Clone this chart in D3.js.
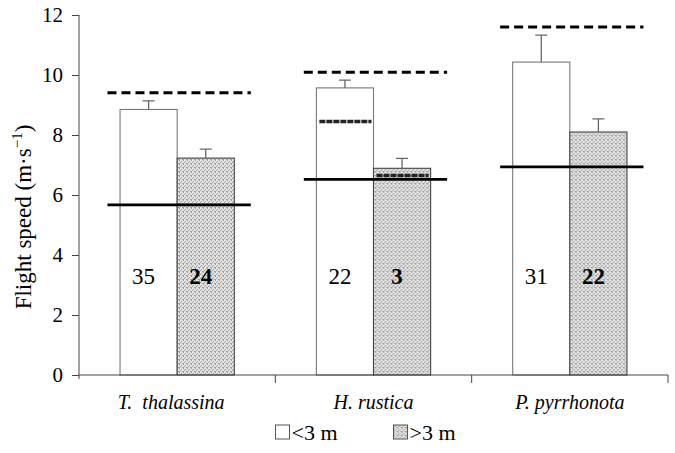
<!DOCTYPE html>
<html>
<head>
<meta charset="utf-8">
<script src="https://cdn.jsdelivr.net/npm/d3@7/dist/d3.min.js"></script>
<style>
  body { margin: 0; background: #fff; }
  svg, svg text { font-family: "Liberation Serif", "Times New Roman", "DejaVu Serif", serif; }
</style>
</head>
<body>
<script>
// species and the two height classes
const species = ["T.  thalassina", "H. rustica", "P. pyrrhonota"];
const groups = ["low", "high"];
const groupLabels = ["<3 m", ">3 m"];

// mean flight speed and SE, per height class
const lowMean = [8.85, 9.57, 10.43];
const lowSE = [0.29, 0.26, 0.90];
const highMean = [7.23, 6.89, 8.10];
const highSE = [0.30, 0.33, 0.44];

// sample sizes shown inside the bars
const lowN = [35, 22, 31];
const highN = [24, 3, 22];

// reference speeds (solid = Vmp, dashed = Vmr)
const vmp = [5.67, 6.52, 6.94];
const vmr = [9.41, 10.09, 11.60];

// extra marks drawn inside the H. rustica bars
const lowMark = [null, 8.45, null];
const highMark = [null, 6.65, null];

const yTicks = [0, 2, 4, 6, 8, 10, 12];

const width = 675, height = 453;
const margin = { left: 79, right: 7, top: 15, bottom: 78 };
const serif = "'Liberation Serif', 'Times New Roman', 'DejaVu Serif', serif";

const svg = d3.select("body").append("svg")
    .attr("width", width)
    .attr("height", height)
    .attr("font-family", serif);

const defs = svg.append("defs");
const pat = defs.append("pattern")
    .attr("id", "stipple")
    .attr("width", 4).attr("height", 4)
    .attr("patternUnits", "userSpaceOnUse");
pat.append("rect").attr("width", 4).attr("height", 4).attr("fill", "#e4e4e4");
[[0, 0], [2, 1], [1, 2], [3, 3], [0, 3]].forEach(p => {
    pat.append("rect").attr("x", p[0]).attr("y", p[1])
        .attr("width", 1).attr("height", 1).attr("fill", "#9a9a9a");
});

const x = d3.scaleBand()
    .domain(species)
    .range([margin.left, width - margin.right]);

const bw = x.bandwidth();
const xg = d3.scaleBand()
    .domain(groups)
    .range([bw * 0.209, bw * 0.791]);

const y = d3.scaleLinear()
    .domain([0, 12])
    .range([height - margin.bottom, margin.top]);

const rows = species.map((s, i) => ({
    name: s,
    bars: [
        { g: "low", mean: lowMean[i], se: lowSE[i], n: lowN[i], mark: lowMark[i] },
        { g: "high", mean: highMean[i], se: highSE[i], n: highN[i], mark: highMark[i] }
    ],
    vmp: vmp[i],
    vmr: vmr[i]
}));

// y axis
const yAxis = svg.append("g")
    .attr("transform", `translate(${margin.left},0)`)
    .call(d3.axisLeft(y).tickValues(yTicks).tickSize(7).tickPadding(9).tickSizeOuter(0));
yAxis.attr("font-family", serif).attr("font-size", 21);
yAxis.select(".domain").attr("stroke", "#444").attr("d", `M0,${y(12)}V${y(0) + 4}`);
yAxis.selectAll(".tick line").attr("stroke", "#444");
yAxis.selectAll(".tick text").attr("fill", "#000");

svg.append("text")
    .attr("transform", `translate(31,${(y(0) + y(12)) / 2 + 22}) rotate(-90)`)
    .attr("text-anchor", "middle")
    .attr("font-size", 23)
    .attr("fill", "#000")
    .html("Flight speed (m·s<tspan dy='-9' font-size='15'>−1</tspan><tspan dy='9'>)</tspan>");

const grp = svg.append("g")
    .selectAll("g")
    .data(rows)
    .join("g")
    .attr("transform", d => `translate(${x(d.name)},0)`);

// bars
grp.selectAll("rect.bar")
    .data(d => d.bars)
    .join("rect")
    .attr("class", "bar")
    .attr("x", d => xg(d.g))
    .attr("y", d => y(d.mean))
    .attr("width", xg.bandwidth())
    .attr("height", d => y(0) - y(d.mean))
    .attr("fill", d => d.g === "low" ? "#fff" : "url(#stipple)")
    .attr("stroke", d => d.g === "low" ? "#777" : "#444")
    .attr("stroke-width", 1.1);

// error bars
grp.selectAll("path.err")
    .data(d => d.bars)
    .join("path")
    .attr("class", "err")
    .attr("d", d => {
        const cx = xg(d.g) + xg.bandwidth() / 2;
        return `M${cx},${y(d.mean)}V${y(d.mean + d.se)}M${cx - 6},${y(d.mean + d.se)}H${cx + 6}`;
    })
    .attr("fill", "none")
    .attr("stroke", "#666")
    .attr("stroke-width", 1.3);

// dark marks inside H. rustica bars
grp.selectAll("line.mark")
    .data(d => d.bars.filter(b => b.mark !== null))
    .join("line")
    .attr("class", "mark")
    .attr("x1", d => xg(d.g) + 3)
    .attr("x2", d => xg(d.g) + xg.bandwidth() - 2)
    .attr("y1", d => y(d.mark))
    .attr("y2", d => y(d.mark))
    .attr("stroke", "#222")
    .attr("stroke-width", 3.5)
    .attr("stroke-dasharray", "6,1");

// sample sizes
grp.selectAll("text.n")
    .data(d => d.bars)
    .join("text")
    .attr("class", "n")
    .attr("x", d => xg(d.g) + xg.bandwidth() / 2 - 5)
    .attr("y", y(3.05))
    .attr("text-anchor", "middle")
    .attr("font-size", 23)
    .attr("font-weight", d => d.g === "high" ? "bold" : "normal")
    .attr("fill", "#000")
    .text(d => d.n);

// reference lines
const lineX0 = bw * 0.145, lineX1 = bw * 0.875;
grp.append("line")
    .attr("x1", lineX0).attr("x2", lineX1)
    .attr("y1", d => y(d.vmp)).attr("y2", d => y(d.vmp))
    .attr("stroke", "#000").attr("stroke-width", 2.8);
grp.append("line")
    .attr("x1", lineX0).attr("x2", lineX1)
    .attr("y1", d => y(d.vmr)).attr("y2", d => y(d.vmr))
    .attr("stroke", "#000").attr("stroke-width", 3)
    .attr("stroke-dasharray", "9,5");

// x axis
const xAxis = svg.append("g")
    .attr("transform", `translate(0,${y(0)})`);
xAxis.append("line")
    .attr("x1", margin.left).attr("x2", width - margin.right)
    .attr("stroke", "#444");
xAxis.selectAll("line.tk")
    .data(species)
    .join("line")
    .attr("class", "tk")
    .attr("x1", d => x(d) + bw).attr("x2", d => x(d) + bw)
    .attr("y1", 0).attr("y2", 8)
    .attr("stroke", "#444");
xAxis.selectAll("text")
    .data(species)
    .join("text")
    .attr("x", d => x(d) + bw / 2 - (d === species[0] ? 6 : 0))
    .attr("y", 34)
    .attr("text-anchor", "middle")
    .attr("font-size", 20)
    .attr("font-style", "italic")
    .style("white-space", "pre")
    .attr("fill", "#000")
    .text(d => d);

// legend
const legend = svg.append("g")
    .attr("transform", `translate(${margin.left + (width - margin.left - margin.right) / 2},${height - 13})`);
const legX = [-98, 20];
const li = legend.selectAll("g")
    .data(groups)
    .join("g")
    .attr("transform", (d, i) => `translate(${legX[i]},0)`);
li.append("rect")
    .attr("x", 0).attr("y", -15)
    .attr("width", 14).attr("height", 14)
    .attr("fill", d => d === "low" ? "#fff" : "url(#stipple)")
    .attr("stroke", "#555");
li.append("text")
    .attr("x", 16)
    .attr("y", 0)
    .attr("font-size", 22)
    .attr("fill", "#000")
    .text((d, i) => groupLabels[i]);
</script>
</body>
</html>
